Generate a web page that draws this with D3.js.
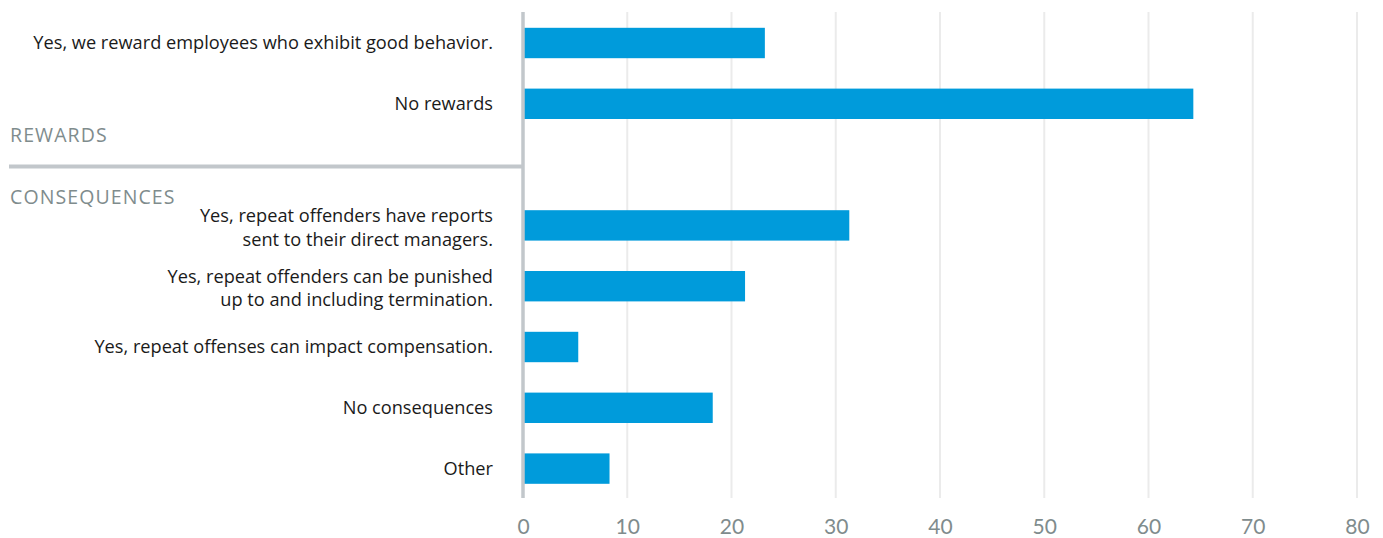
<!DOCTYPE html>
<html>
<head>
<meta charset="utf-8">
<script src="https://cdn.jsdelivr.net/npm/d3@7"></script>
<style>
  html, body { margin: 0; padding: 0; background: #fff; }
  svg { display: block; }
</style>
</head>
<body>
<svg id="chart" width="1383" height="538"></svg>
<script>
// Survey answers, top to bottom; the empty slot holds the section divider
const categories = [
  "Yes, we reward employees who exhibit good behavior.",
  "No rewards",
  "",
  "Yes, repeat offenders have reports|sent to their direct managers.",
  "Yes, repeat offenders can be punished|up to and including termination.",
  "Yes, repeat offenses can impact compensation.",
  "No consequences",
  "Other"
];
const values = [23.2, 64.3, null, 31.3, 21.3, 5.3, 18.2, 8.3];
const sections = ["REWARDS", "CONSEQUENCES"];
const tickValues = [0, 10, 20, 30, 40, 50, 60, 70, 80];

const svg = d3.select("#chart");
const plot = { left: 523, right: 1357, top: 12.6, bottom: 499 };

const x = d3.scaleLinear().domain([0, 80]).range([plot.left, plot.right]);
const y = d3.scaleBand()
  .domain(d3.range(categories.length))
  .range([plot.top, plot.bottom])
  .paddingInner(0.5)
  .paddingOuter(0.25);

const labelFont = "'Open Sans', 'Noto Sans', sans-serif";
const tickFont = "'Lato', 'Open Sans', sans-serif";

// vertical gridlines
svg.append("g")
  .selectAll("line")
  .data(tickValues.slice(1))
  .join("line")
  .attr("x1", d => x(d)).attr("x2", d => x(d))
  .attr("y1", 12).attr("y2", 498)
  .attr("stroke", "#ebebeb")
  .attr("stroke-width", 2);

// bars
const rows = categories.map((c, i) => ({ c, v: values[i], i })).filter(d => d.v != null);
svg.append("g")
  .selectAll("rect")
  .data(rows)
  .join("rect")
  .attr("x", x(0))
  .attr("y", d => y(d.i))
  .attr("width", d => x(d.v) - x(0))
  .attr("height", y.bandwidth())
  .attr("fill", "#009bdb");

// section divider and baseline
const midY = y(2) + y.bandwidth() / 2 + 2;
svg.append("line")
  .attr("x1", 9).attr("x2", x(0))
  .attr("y1", midY).attr("y2", midY)
  .attr("stroke", "#c2c7cb").attr("stroke-width", 4);
svg.append("line")
  .attr("x1", x(0)).attr("x2", x(0))
  .attr("y1", 12).attr("y2", 498)
  .attr("stroke", "#c2c7cb").attr("stroke-width", 3.5);

// category labels
const lab = svg.append("g")
  .attr("font-family", labelFont)
  .attr("font-size", 18.2)
  .attr("fill", "#1a1a1a")
  .attr("text-anchor", "end");
rows.forEach(d => {
  const lines = d.c.split("|");
  const cy = y(d.i) + y.bandwidth() / 2;
  const lh = 23.5;
  const start = cy - (lines.length - 1) * lh / 2 + (lines.length > 1 ? 2 : 0);
  lines.forEach((t, k) => {
    lab.append("text")
      .attr("x", x(0) - 30)
      .attr("y", start + k * lh)
      .attr("dy", "0.35em")
      .text(t);
  });
});

// section headings
const sec = svg.append("g")
  .attr("font-family", labelFont)
  .attr("font-size", 19.5)
  .attr("letter-spacing", 1.1)
  .attr("fill", "#7f8c8d");
sec.append("text").attr("x", 10).attr("y", midY - 31).attr("dy", "0.35em").text(sections[0]);
sec.append("text").attr("x", 10).attr("y", midY + 31).attr("dy", "0.35em").text(sections[1]);

// x axis tick labels
const axis = svg.append("g")
  .attr("transform", "translate(0,527)")
  .call(d3.axisBottom(x).tickValues(tickValues).tickSize(0).tickPadding(0));
axis.select(".domain").remove();
axis.selectAll("text")
  .attr("y", 0)
  .attr("dy", "0.35em")
  .attr("font-family", tickFont)
  .attr("font-weight", 400)
  .attr("font-size", 21)
  .attr("fill", "#7f8c8d");
</script>
</body>
</html>
